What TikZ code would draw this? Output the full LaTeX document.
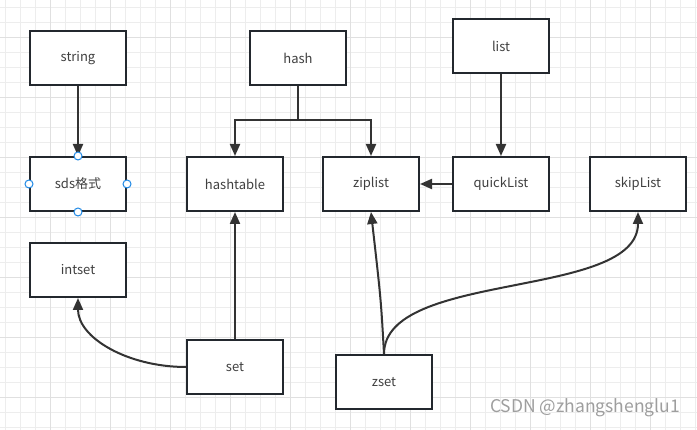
\documentclass[tikz,border=0pt]{standalone}
\usepackage{fontspec}
\setmainfont{Noto Sans CJK SC}
\usetikzlibrary{arrows.meta}
\definecolor{boxline}{RGB}{35,40,46}
\definecolor{arrowline}{RGB}{51,51,51}
\definecolor{handle}{RGB}{30,136,229}
\begin{document}
\begin{tikzpicture}
[x=1pt, y=-1pt, font=\fontsize{13}{15}\selectfont,
box/.style={rectangle, draw=boxline, fill=white, line width=2pt, minimum width=96pt, minimum height=54pt, inner sep=0pt, text=black!75},
link/.style={draw=arrowline, line width=2pt, -{Triangle[length=12pt, width=10pt]}},
gridminor/.style={draw=black!7, line width=0.8pt},
gridmajor/.style={draw=black!12, line width=0.8pt},
knob/.style={circle, draw=handle, fill=white, line width=1pt, inner sep=0pt, minimum size=8pt}]

\useasboundingbox (0,0) rectangle (697,430);
\fill[white] (0,0) rectangle (697,430);

\foreach \x in {5,20,...,695} {
  \draw[gridminor] (\x,0) -- (\x,430);
}
\foreach \y in {7,22,...,427} {
  \draw[gridminor] (0,\y) -- (697,\y);
}
\foreach \x in {50,110,...,650} {
  \draw[gridmajor] (\x,0) -- (\x,430);
}
\foreach \y in {37,97,...,397} {
  \draw[gridmajor] (0,\y) -- (697,\y);
}

\node[box] (string) at (78,58) {string};
\node[box] (hash) at (298,58) {hash};
\node[box] (list) at (501,46) {list};

\node[box] (sds) at (78,184) {sds格式};
\node[box] (hashtable) at (235,184) {hashtable};
\node[box] (ziplist) at (371,184) {ziplist};
\node[box] (quicklist) at (501,184) {quickList};
\node[box] (skiplist) at (638,184) {skipList};

\node[box] (intset) at (78,270) {intset};
\node[box] (set) at (235,367) {set};
\node[box] (zset) at (384,382) {zset};

\coordinate (hfork) at (298,120);

\draw[link] (string) -- (sds);
\draw[link] (hash.south) -- (hfork) -| (hashtable.north);
\draw[link] (hash.south) -- (hfork) -| (ziplist.north);
\draw[link] (list) -- (quicklist);
\draw[link] (quicklist) -- (ziplist);
\draw[link] (set) -- (hashtable);
\draw[link] (set.west) .. controls (128,367) and (78,338) .. (intset.south);
\draw[link] (zset.north) .. controls (381,300) .. (ziplist.south);
\draw[link] (zset.north) .. controls (384,270) and (638,300) .. (skiplist.south);

\foreach \a in {north,south,east,west} {
  \node[knob] (knob\a) at (sds.\a) {};
}

\node[text=black!38, font=\fontsize{17.5}{20}\selectfont] (mark) at (585,408) {CSDN @zhangshenglu1};
\end{tikzpicture}
\end{document}
